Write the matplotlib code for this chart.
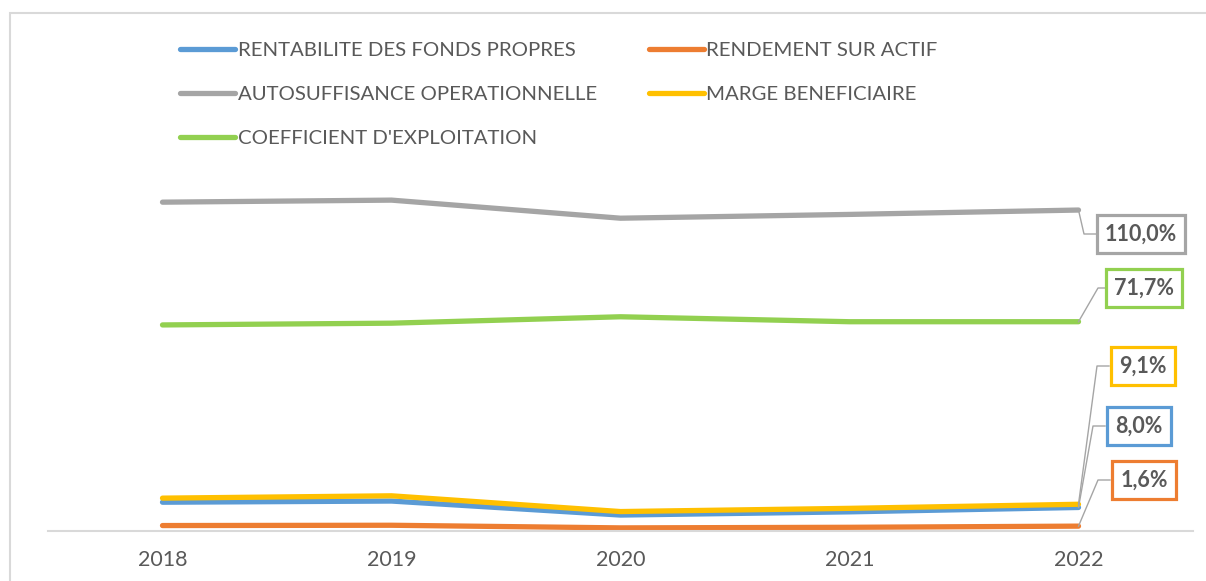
import matplotlib.pyplot as plt
from matplotlib.lines import Line2D
from matplotlib.patches import Rectangle

years = ["2018", "2019", "2020", "2021", "2022"]

rentabilite = [9.8, 10.2, 5.4, 6.5, 8.0]
rendement = [1.8, 1.9, 1.0, 1.2, 1.6]
autosuffisance = [112.7, 113.4, 107.2, 108.5, 110.0]
marge = [11.2, 12.0, 6.6, 7.7, 9.1]
coefficient = [70.6, 71.2, 73.4, 71.7, 71.7]

names = ["RENTABILITE DES FONDS PROPRES", "RENDEMENT SUR ACTIF",
         "AUTOSUFFISANCE OPERATIONNELLE", "MARGE BENEFICIAIRE",
         "COEFFICIENT D'EXPLOITATION"]
series = [rentabilite, rendement, autosuffisance, marge, coefficient]
colors = ["#5b9bd5", "#ed7d31", "#a5a5a5", "#ffc000", "#92d050"]

# where the end labels sit (pixel from top-left)
label_pos = [(1139, 426), (1144, 480), (1141, 234), (1143, 366), (1144, 288)]

W, H = 1206, 581
plt.rcParams['font.family'] = ['Lato', 'DejaVu Sans']
fig = plt.figure(figsize=(W / 100, H / 100), dpi=100)

# axes placed in pixels
left, right, bottom, top = 48, 1193, 530.8, 160
ax = fig.add_axes([left / W, 1 - bottom / H, (right - left) / W, (bottom - top) / H])
x = list(range(len(years)))
ax.set_xlim(-0.5, len(years) - 0.5)
ax.set_ylim(0, (bottom - top) / 2.916)

lines = []
for vals, c, n in zip(series, colors, names):
    ln, = ax.plot(x, vals, color=c, lw=3.8, solid_capstyle='round', label=n)
    lines.append(ln)

for s in ['top', 'right', 'left']:
    ax.spines[s].set_visible(False)
ax.spines['bottom'].set_color('#d9d9d9')
ax.spines['bottom'].set_linewidth(1.5)
ax.set_yticks([])
ax.set_xticks(x)
ax.set_xticklabels(years, fontsize=15.5, color='#595959')
ax.tick_params(axis='x', length=0, pad=14)

# legend: order so that column-wise filling gives the reference rows
order = [0, 2, 4, 1, 3]
leg = ax.legend([lines[i] for i in order], [names[i] for i in order],
                ncol=2, frameon=False, loc='upper left',
                bbox_to_anchor=(180 / W, 1 - 42 / H), bbox_transform=fig.transFigure,
                fontsize=14.7, handlelength=2.7, handletextpad=0.12,
                labelspacing=1.3, columnspacing=2.55, borderpad=0, borderaxespad=0)
for t in leg.get_texts():
    t.set_color('#595959')

# end labels with leader lines
fig.canvas.draw()
for vals, c, (lx, ly) in zip(series, colors, label_pos):
    px, py = ax.transData.transform((x[-1], vals[-1]))
    box_left = lx - 34 if vals[-1] < 100 else lx - 45
    bend = box_left - 12
    fig.add_artist(Line2D([px, bend, box_left], [py, H - ly, H - ly], transform=None,
                          color='#a5a5a5', lw=1.0))
    txt = "{:.1f}%".format(vals[-1]).replace('.', ',')
    fig.text(lx / W, 1 - ly / H, txt, ha='center', va='center', fontsize=15.5,
             fontweight='bold', color='#595959',
             bbox=dict(boxstyle='square,pad=0.38', fc='white', ec=c, lw=2.3))

# chart border
fig.add_artist(Rectangle((10 / W, -0.1), 1.2, 1 - 13 / H + 0.1, transform=fig.transFigure,
                         fill=False, ec='#d9d9d9', lw=1.5))

fig.savefig('out.png', dpi=100)
